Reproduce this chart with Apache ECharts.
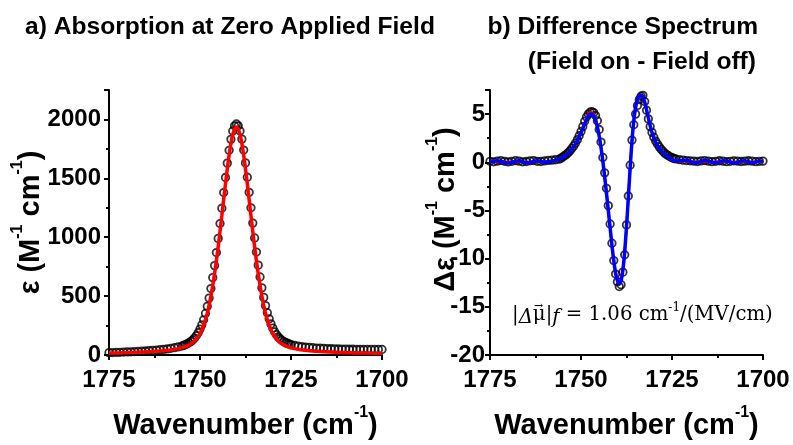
<!DOCTYPE html>
<html><head><meta charset="utf-8">
<script src="https://cdn.jsdelivr.net/npm/echarts@6/dist/echarts.min.js"></script>
<style>html,body{margin:0;padding:0;background:#fff}#c{width:793px;height:445px}</style>
</head><body><div id="c"></div>
<script>
// ---- Panel a: absorption (data points) ----
const wnA = [1775,1774,1773,1772,1771,1770,1769,1768,1767,1766,1765,1764,1763,1762,1761,1760,1759,1758,1757,1756,
 1755,1754.5,1754,1753.5,1753,1752.5,1752,1751.5,1751,1750.5,1750,1749.5,1749,1748.5,1748,1747.5,1747,1746.5,1746,1745.5,
 1745,1744.5,1744,1743.5,1743,1742.5,1742,1741.5,1741,1740.5,1740,1739.5,1739,1738.5,1738,1737.5,1737,1736.5,1736,1735.5,
 1735,1734.5,1734,1733.5,1733,1732.5,1732,1731.5,1731,1730.5,1730,1729.5,1729,1728.5,1728,1727.5,1727,1726.5,1726,1725.5,1725,
 1724,1723,1722,1721,1720,1719,1718,1717,1716,1715,1714,1713,1712,1711,1710,1709,1708,1707,1706,1705,1704,1703,1702,1701,1700];
const absData = [20,21,22,23,25,26,27,29,30,32,34,37,39,42,45,48,52,57,62,69,
 76,82,88,96,104,115,128,144,165,189,220,256,299,353,413,483,564,657,759,870,
 990,1116,1246,1379,1507,1629,1738,1831,1902,1946,1962,1946,1902,1833,1740,1631,1509,1381,1250,1120,
 994,874,763,663,570,489,419,359,307,264,228,197,173,154,138,125,114,106,100,94,88,
 81,76,71,67,64,62,59,58,56,54,53,52,51,50,50,49,49,48,48,48,47,47,47,47,47];
// ---- Panel a: fit (red line) ----
const wnFitA = [1775,1774,1773,1772,1771,1770,1769,1768,1767,1766,1765,1764,1763,1762,1761,1760,1759,1758,1757,1756,
 1755,1754,1753,1752,1751,1750,1749,1748,1747,1746,1745,1744,1743,1742,1741,1740,1739,1738,1737,1736,
 1735,1734,1733,1732,1731,1730,1729,1728,1727,1726,1725,1724,1723,1722,1721,1720,1719,1718,1717,1716,
 1715,1714,1713,1712,1711,1710,1709,1708,1707,1706,1705,1704,1703,1702,1701,1700];
const absFit = [17,17,18,18,19,20,21,22,24,25,27,28,30,32,34,37,40,44,48,54,
 61,71,84,104,134,181,252,356,500,689,921,1183,1453,1697,1872,1936,1872,1697,1453,1183,
 921,689,500,356,252,181,134,104,84,71,61,54,48,44,40,37,34,32,30,28,
 27,25,24,22,21,20,19,18,18,17,17,16,16,15,15,14];
// ---- Panel b: difference spectrum ----
const wnB = [1775,1774,1773,1772,1771,1770,1769,1768,1767,1766,1765,1764,1763,1762,1761,1760,1759,1758,1757,
 1756,1755.5,1755,1754.5,1754,1753.5,1753,1752.5,1752,1751.5,1751,1750.5,1750,1749.5,1749,1748.5,1748,1747.5,1747,1746.5,
 1746,1745.5,1745,1744.5,1744,1743.5,1743,1742.5,1742,1741.5,1741,1740.5,1740,1739.5,1739,1738.5,1738,1737.5,1737,1736.5,
 1736,1735.5,1735,1734.5,1734,1733.5,1733,1732.5,1732,1731.5,1731,1730.5,1730,1729.5,1729,1728.5,1728,1727.5,1727,1726.5,
 1726,1725.5,1725,1724.5,1724,
 1723,1722,1721,1720,1719,1718,1717,1716,1715,1714,1713,1712,1711,1710,1709,1708,1707,1706,1705,1704,1703,1702,1701,1700];
const diffData = [0.10,0.05,0.12,0.18,0.10,0.04,0.10,0.17,0.12,0.05,0.08,0.15,0.18,0.10,0.08,0.14,0.20,0.22,0.26,
 0.32,0.42,0.55,0.68,0.82,1.0,1.2,1.45,1.7,2.0,2.35,2.75,3.2,3.7,4.25,4.7,5.0,5.2,5.25,5.15,
 4.85,4.3,3.4,2.1,0.5,-1.1,-2.7,-4.5,-6.4,-8.4,-10.2,-11.6,-12.4,-12.9,-12.7,-11.4,-9.6,-6.5,-3.5,-0.3,
 2.3,3.9,5.0,5.9,6.5,6.85,6.95,6.3,5.4,4.5,3.7,3.1,2.6,2.2,1.9,1.6,1.35,1.15,0.95,0.8,
 0.68,0.57,0.48,0.4,0.35,
 0.27,0.22,0.18,0.15,0.12,0.08,0.14,0.18,0.12,0.06,0.10,0.16,0.12,0.06,0.10,0.15,0.12,0.08,0.12,0.16,0.12,0.06,0.10,0.12];
const diffRed = [0.05,0.05,0.05,0.05,0.05,0.05,0.05,0.05,0.05,0.05,0.05,0.05,0.05,0.05,0.06,0.07,0.1,0.13,0.18,
 0.28,0.37,0.48,0.6,0.75,0.93,1.13,1.37,1.64,1.95,2.3,2.7,3.13,3.6,4.08,4.55,4.93,5.17,5.2,4.98,
 4.5,3.78,2.8,1.58,0.15,-1.5,-3.2,-5.0,-6.8,-8.6,-10.2,-11.5,-12.3,-12.6,-12.3,-11.2,-9.3,-6.7,-3.7,-0.6,
 2.2,4.3,5.7,6.5,6.85,6.95,6.8,6.25,5.45,4.6,3.8,3.1,2.55,2.1,1.75,1.45,1.2,1.0,0.82,0.66,
 0.5,0.38,0.3,0.24,0.2,
 0.16,0.13,0.11,0.09,0.08,0.07,0.06,0.06,0.05,0.05,0.05,0.05,0.05,0.05,0.05,0.05,0.05,0.05,0.05,0.05,0.05,0.05,0.05,0.05];
const diffBlue = [0.0,0.1,0.15,0.1,-0.02,-0.08,0.0,0.12,0.15,0.05,-0.05,-0.02,0.1,0.15,0.08,0.02,0.06,0.14,0.2,
 0.3,0.38,0.5,0.62,0.77,0.94,1.14,1.37,1.63,1.93,2.27,2.65,3.07,3.52,3.98,4.42,4.78,5.0,5.02,4.8,
 4.35,3.65,2.7,1.5,0.1,-1.5,-3.2,-5.0,-6.8,-8.6,-10.2,-11.5,-12.3,-12.6,-12.3,-11.2,-9.3,-6.7,-3.7,-0.6,
 2.2,4.3,5.7,6.5,6.85,6.95,6.8,6.25,5.45,4.6,3.8,3.1,2.55,2.1,1.75,1.45,1.2,1.0,0.82,0.66,
 0.5,0.36,0.25,0.18,0.14,
 0.16,0.22,0.2,0.08,-0.04,-0.02,0.1,0.18,0.12,0.0,-0.06,0.04,0.15,0.14,0.02,-0.06,0.0,0.12,0.16,0.06,-0.04,0.02,0.12,0.1];

const titleA = 'a) Absorption at Zero Applied Field';
const titleB1 = 'b) Difference Spectrum';
const titleB2 = '(Field on - Field off)';

const zip = (xs, ys) => xs.map((x, i) => [x, ys[i]]);
const SANS = '"Liberation Sans", Arial, sans-serif';
const SERIF = '"DejaVu Serif", serif';
function rich(size, sup) {
  return {
    b: {fontFamily: SANS, fontWeight: 'bold', fontSize: size, lineHeight: size + 6, verticalAlign: 'bottom', color: '#000'},
    s: {fontFamily: SANS, fontWeight: 'bold', fontSize: sup, lineHeight: size + 6, verticalAlign: 'top', color: '#000'}
  };
}
function xAx(idx) {
  return {
    gridIndex: idx, type: 'value', min: 1700, max: 1775, interval: 25, inverse: true,
    name: '{b|Wavenumber (cm}{s|-1}{b|)}', nameLocation: 'middle', nameGap: 50, nameMoveOverlap: false,
    nameTextStyle: {rich: rich(29, 16)},
    axisLine: {show: true, onZero: false, lineStyle: {color: '#000', width: 2}},
    axisTick: {show: true, length: 5, lineStyle: {color: '#000', width: 2}},
    minorTick: {show: true, splitNumber: 2, length: 3, lineStyle: {color: '#000', width: 2}},
    splitLine: {show: false},
    axisLabel: {color: '#000', fontFamily: SANS, fontWeight: 'bold', fontSize: 24, margin: 13,
      formatter: v => String(v)}
  };
}
function yAx(idx, min, max, interval, name, gap, pad, lblMargin) {
  return {
    gridIndex: idx, type: 'value', min: min, max: max, interval: interval,
    name: name, nameLocation: 'middle', nameGap: gap, nameMoveOverlap: false,
    nameTextStyle: {rich: rich(29, 16), padding: pad},
    axisLine: {show: true, onZero: false, lineStyle: {color: '#000', width: 2}},
    axisTick: {show: true, length: 5, lineStyle: {color: '#000', width: 2}},
    minorTick: {show: true, splitNumber: 2, length: 3, lineStyle: {color: '#000', width: 2}},
    splitLine: {show: false},
    axisLabel: {color: '#000', fontFamily: SANS, fontWeight: 'bold', fontSize: 24, margin: lblMargin, showMaxLabel: false,
      formatter: v => String(v)}
  };
}
const circle = {
  type: 'scatter', symbol: 'circle', symbolSize: 7.5,
  itemStyle: {color: 'rgba(0,0,0,0)', borderColor: '#000', borderWidth: 1.8},
  silent: true, z: 2
};
const chart = echarts.init(document.getElementById('c'), null, {renderer: 'canvas'});
chart.setOption({
  animation: false,
  backgroundColor: '#fff',
  grid: [
    {left: 109, top: 90, width: 273, height: 273},
    {left: 490, top: 90, width: 273, height: 273}
  ],
  xAxis: [xAx(0), xAx(1)],
  yAxis: [
    yAx(0, 0, 2250, 500, '{b|ε (M}{s|-1}{b| cm}{s|-1}{b|)}', 64, [0, 0, 0, 0], 8),
    yAx(1, -20, 7.5, 5, '{b|Δε (M}{s|-1}{b| cm}{s|-1}{b|)}', 30, [0, 0, 0, 26], 5)
  ],
  series: [
    Object.assign({}, circle, {xAxisIndex: 0, yAxisIndex: 0, data: zip(wnA, absData)}),
    {type: 'line', xAxisIndex: 0, yAxisIndex: 0, data: zip(wnFitA, absFit), smooth: 0.3,
     showSymbol: false, lineStyle: {color: '#ff0000', width: 3.5}, z: 3},
    Object.assign({}, circle, {xAxisIndex: 1, yAxisIndex: 1, data: zip(wnB, diffData)}),
    {type: 'line', xAxisIndex: 1, yAxisIndex: 1, data: zip(wnB, diffRed), smooth: 0.3,
     showSymbol: false, lineStyle: {color: '#ff0000', width: 2.5}, z: 3},
    {type: 'line', xAxisIndex: 1, yAxisIndex: 1, data: zip(wnB, diffBlue), smooth: 0.3,
     showSymbol: false, lineStyle: {color: '#0000ff', width: 3.5}, z: 4}
  ],
  graphic: [
    {type: 'text', left: 25, top: 15, style: {text: titleA, font: 'bold 24.6px ' + SANS, fill: '#000'}},
    {type: 'text', right: 35, top: 15, style: {text: titleB1, font: 'bold 24.6px ' + SANS, fill: '#000'}},
    {type: 'text', right: 37, top: 50, style: {text: titleB2, font: 'bold 24.6px ' + SANS, fill: '#000'}},
    {type: 'text', left: 512, top: 302, style: {
      text: '|{i|Δ}μ|{i|f} = 1.06 cm{s|-1}/(MV/cm)',
      font: '19.7px ' + SERIF, fill: '#000',
      rich: {
        i: {fontFamily: SERIF, fontStyle: 'italic', fontSize: 19.7, lineHeight: 26, verticalAlign: 'bottom'},
        s: {fontFamily: SERIF, fontSize: 12, lineHeight: 26, verticalAlign: 'top'}
      }
    }},
    {type: 'text', x: 538.5, y: 306, style: {text: '→', font: '11px ' + SERIF, fill: '#000',
      align: 'center', verticalAlign: 'middle'}}
  ]
});
</script>
</body></html>
